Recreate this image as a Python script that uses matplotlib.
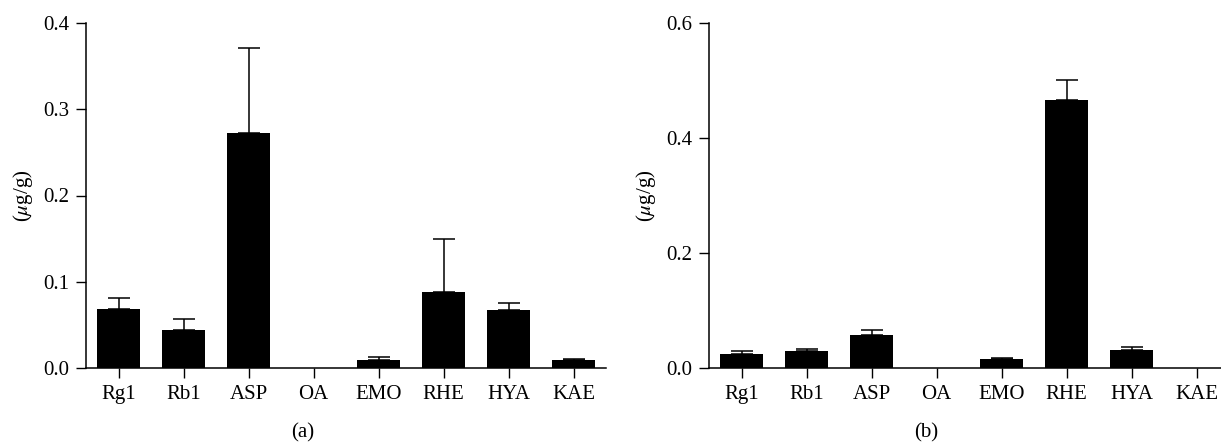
import numpy as np
import matplotlib
matplotlib.use('Agg')
import matplotlib.pyplot as plt

plt.rcParams['font.family'] = ['Liberation Serif', 'DejaVu Serif']
plt.rcParams['mathtext.fontset'] = 'stix'

# dane
zwiazki = ['Rg1', 'Rb1', 'ASP', 'OA', 'EMO', 'RHE', 'HYA', 'KAE']

srednie_a = [0.068, 0.044, 0.273, 0.0, 0.0097, 0.088, 0.067, 0.0089]
bledy_a = [0.013, 0.013, 0.098, 0.0, 0.0031, 0.061, 0.008, 0.0015]

srednie_b = [0.0238, 0.0296, 0.0574, 0.0, 0.0151, 0.4667, 0.0319, 0.0]
bledy_b = [0.0062, 0.0040, 0.0093, 0.0, 0.0017, 0.0342, 0.0040, 0.0]

fig = plt.figure(figsize=(12.21, 4.47), dpi=100)

ax_a = fig.add_axes([86 / 1221, 1 - 368 / 447, 520 / 1221, 345 / 447])
ax_b = fig.add_axes([709 / 1221, 1 - 368 / 447, 520 / 1221, 345 / 447])


def rysuj(ax, srednie, bledy, ymax, krok):
    x = np.arange(len(zwiazki))
    srednie = np.array(srednie)
    bledy = np.array(bledy)
    ax.bar(x, srednie, width=0.67, color='black', linewidth=0, zorder=2)
    # slupki bledow tylko tam gdzie jest wartosc
    m = srednie > 0
    ax.errorbar(x[m], srednie[m], yerr=[np.zeros(m.sum()), bledy[m]], fmt='none',
                ecolor='black', elinewidth=1.1, capsize=7.8, capthick=1.1, zorder=1)
    ax.set_xlim(-0.5, 7.5)
    ax.set_ylim(0, ymax)
    ticki = np.arange(0, ymax + 1e-9, krok)
    ax.set_yticks(ticki)
    ax.set_yticklabels(['%.1f' % v for v in ticki])
    ax.set_xticks(x)
    ax.set_xticklabels(zwiazki)
    ax.spines['top'].set_visible(False)
    ax.spines['right'].set_visible(False)
    ax.spines['left'].set_linewidth(1.1)
    ax.spines['bottom'].set_linewidth(1.1)
    ax.tick_params(axis='both', length=7, width=1.0, labelsize=15, pad=5)
    ax.set_ylabel(r'($\mu$g/g)', fontsize=15, labelpad=6)


rysuj(ax_a, srednie_a, bledy_a, 0.4, 0.1)
rysuj(ax_b, srednie_b, bledy_b, 0.6, 0.2)

fig.text(303 / 1221, 1 - 433 / 447, '(a)', ha='center', va='center', fontsize=15)
fig.text(926 / 1221, 1 - 433 / 447, '(b)', ha='center', va='center', fontsize=15)

fig.savefig('out.png', dpi=100)
